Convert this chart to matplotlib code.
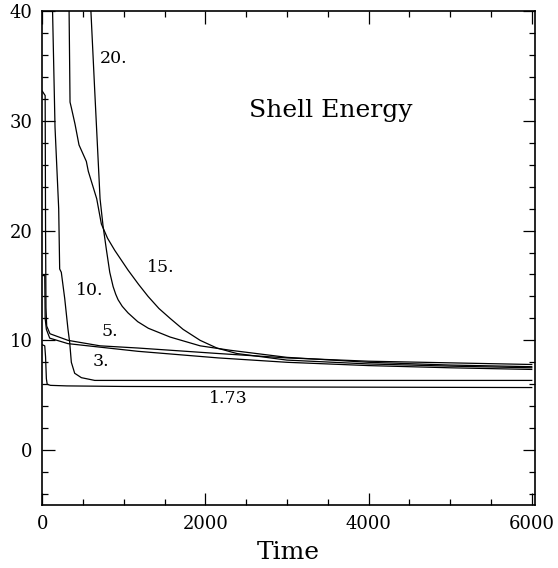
import matplotlib.pyplot as plt
from matplotlib.ticker import MultipleLocator

# shell energy vs time, one curve per initial parameter
t_173 = [0, 30, 40, 50, 60, 100, 300, 1000, 3000, 6000]
e_173 = [9.6, 9.5, 8.5, 6.5, 6.0, 5.9, 5.85, 5.8, 5.75, 5.7]

t_3 = [0, 30, 35, 50, 91, 315, 1174, 2156, 3000, 4000, 5000, 6000]
e_3 = [15.9, 15.9, 12.0, 11.0, 10.2, 9.7, 9.0, 8.4, 8.0, 7.7, 7.5, 7.35]

t_5 = [0, 35, 40, 45, 54, 94, 315, 708, 1174, 2156, 3000, 4000, 5000, 6000]
e_5 = [32.7, 32.3, 20.0, 13.0, 11.3, 10.6, 10.0, 9.5, 9.3, 8.8, 8.4, 8.1, 7.95, 7.8]

t_10 = [100, 125, 156, 201, 213, 233, 275, 315, 336, 356, 397, 479, 643, 1500, 6000]
e_10 = [48, 40.3, 29.4, 22.0, 16.5, 16.2, 13.8, 11.0, 9.8, 8.0, 7.0, 6.6, 6.35, 6.35, 6.35]

t_15 = [300, 328, 340, 356, 401, 450, 540, 564, 667, 724, 800, 888, 1051, 1180, 1297,
        1430, 1567, 1726, 1935, 2140, 2385, 3000, 4000, 5000, 6000]
e_15 = [50, 40.3, 31.7, 31.2, 29.7, 27.8, 26.3, 25.4, 22.9, 20.6, 19.3, 18.2, 16.4, 15.1, 14.0,
        12.9, 12.0, 11.0, 10.0, 9.3, 8.8, 8.2, 7.85, 7.65, 7.5]

t_20 = [560, 594, 641, 708, 745, 785, 827, 868, 900, 929, 980, 1051, 1170, 1300, 1567,
        1935, 2300, 3000, 4000, 5000, 6000]
e_20 = [50, 40.3, 33.0, 22.9, 20.4, 18.3, 16.2, 14.9, 14.2, 13.7, 13.1, 12.5, 11.7, 11.1, 10.3,
        9.5, 9.1, 8.45, 8.0, 7.75, 7.6]

curves = [(t_173, e_173), (t_3, e_3), (t_5, e_5), (t_10, e_10), (t_15, e_15), (t_20, e_20)]

# curve labels: text, left x, center y
labels = ["1.73", "3.", "5.", "10.", "15.", "20."]
label_x = [2037, 622, 724, 417, 1281, 709]
label_y = [4.7, 8.1, 10.8, 14.5, 16.6, 35.7]

plt.rcParams['font.family'] = ['DejaVu Serif']

fig = plt.figure(figsize=(5.58, 5.68), dpi=100)
ax = fig.add_axes([0.0758, 0.1109, 0.883, 0.8697])

for t, e in curves:
    ax.plot(t, e, color='black', linewidth=0.9)

for s, x, y in zip(labels, label_x, label_y):
    ax.text(x, y, s, fontsize=12.5, ha='left', va='center')

ax.text(2528, 30.9, 'Shell Energy', fontsize=18, ha='left', va='center')

ax.set_xlim(0, 6040)
ax.set_ylim(-5, 40)
ax.xaxis.set_major_locator(MultipleLocator(2000))
ax.xaxis.set_minor_locator(MultipleLocator(500))
ax.yaxis.set_major_locator(MultipleLocator(10))
ax.yaxis.set_minor_locator(MultipleLocator(2))
ax.tick_params(which='both', direction='in', top=True, right=True, labelsize=13, width=0.9)
ax.tick_params(which='major', length=9)
ax.tick_params(which='minor', length=4.5)
ax.tick_params(axis='x', which='major', pad=7)
ax.tick_params(axis='y', which='major', pad=7)
for sp in ax.spines.values():
    sp.set_linewidth(1.2)

ax.set_xlabel('Time', fontsize=18, labelpad=6)

fig.savefig('out.png', dpi=100)
